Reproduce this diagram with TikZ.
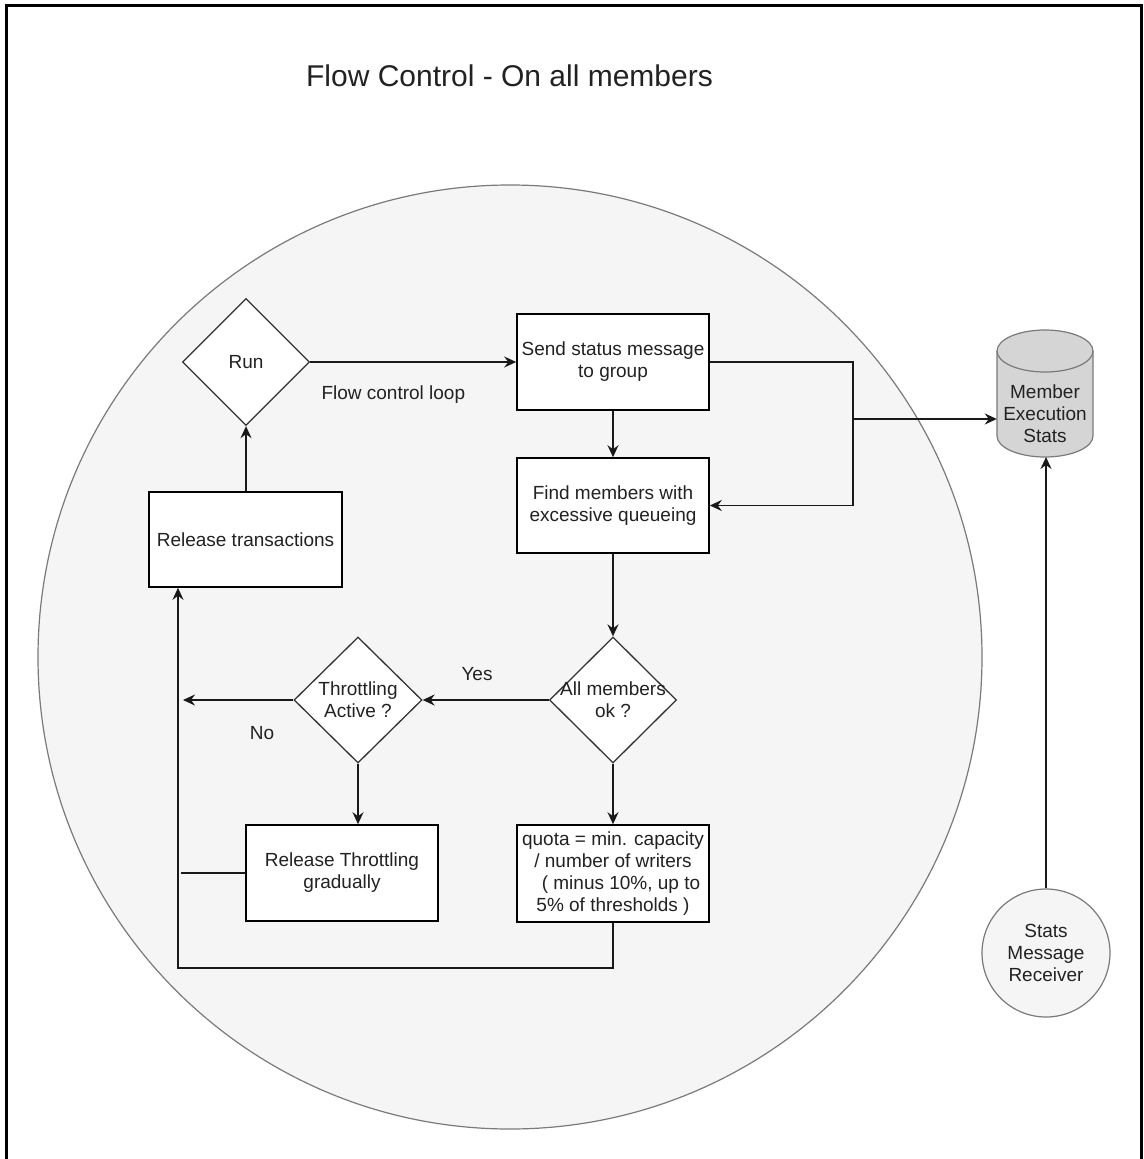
\documentclass[tikz,border=0pt]{standalone}
\usepackage{fontspec}
\setmainfont{Liberation Sans}
\usetikzlibrary{shapes.geometric,arrows.meta,calc}
\definecolor{ink}{HTML}{222222}
\definecolor{zone}{HTML}{F5F5F5}
\definecolor{zoneedge}{HTML}{7A7A7A}
\definecolor{store}{HTML}{D5D5D5}
\begin{document}
\begin{tikzpicture}[x=1pt,y=-1pt,
  txt/.style={font=\fontsize{19}{22}\selectfont, text=ink},
  box/.style={txt, draw=black, fill=white, line width=1.6pt,
    minimum width=192pt, minimum height=96pt, inner sep=2pt, align=center},
  decision/.style={diamond, draw=black!80, fill=white, line width=1.3pt,
    minimum width=127pt, minimum height=127pt, inner sep=0pt},
  inside/.style={txt, align=center},
  flow/.style={draw=black!90, line width=1.6pt,
    -{Stealth[length=12pt,width=11pt,inset=4pt]}},
  wire/.style={draw=black!90, line width=1.6pt},
]
\useasboundingbox (0,0) rectangle (1143,1159);
\fill[white] (0,0) rectangle (1143,1159);

% outer frame
\draw[line width=3pt, black] (6,1162) -- (6,5) -- (1141,5) -- (1141,1162);

% title
\node[font=\fontsize{30}{35}\selectfont, text=ink] (title) at (509.5,76) {Flow Control - On all members};

% the member zone
\draw[fill=zone, draw=zoneedge, line width=1.2pt] (510,657) circle[radius=472];

% flowchart nodes
\node[decision, label={[inside]center:Run}] (run) at (246,362) {};
\node[box] (send) at (613,362) {Send status message\\to group};
\node[box, minimum height=95pt] (find) at (613,505.5) {Find members with\\excessive queueing};
\node[box, minimum width=193pt, minimum height=95pt] (reltx) at (245.5,539.5) {Release transactions};
\node[decision, minimum width=128pt, minimum height=126pt,
  label={[inside]center:{Throttling\\Active ?}}] (thr) at (358,700) {};
\node[decision, minimum height=126pt,
  label={[inside]center:{All members\\ok ?}}] (allok) at (613,700) {};
\node[box] (relthr) at (342,873) {Release Throttling\\gradually};
\node[box, minimum height=97pt] (quota) at (613,873.5)
  {quota = min. capacity\\/ number of writers\hspace*{16pt}\\\hspace*{16pt}( minus 10\%, up to\\5\% of thresholds )};

% labels
\node[txt, anchor=west] (looplbl) at (318,395) {Flow control loop};
\node[txt] (yes) at (477,674) {Yes};
\node[txt] (no) at (262,733) {No};

% statistics store (cylinder)
\draw[fill=store, draw=zoneedge, line width=1.2pt]
  (997,351) -- (997,436) arc[start angle=180, end angle=0, x radius=48, y radius=21]
  -- (1093,351) arc[start angle=0, end angle=-180, x radius=48, y radius=21] -- cycle;
\draw[draw=zoneedge, line width=1.2pt]
  (997,351) arc[start angle=180, end angle=0, x radius=48, y radius=21];
\node[inside, minimum width=96pt, minimum height=127pt, inner sep=0pt] (db) at (1045,414) {Member\\Execution\\Stats};
\coordinate (dbbase) at (1046,457);

% stats receiver
\node[txt, circle, draw=zoneedge, fill=zone, line width=1.2pt, minimum size=128pt,
  inner sep=0pt, align=center] (recv) at (1046,953) {Stats\\Message\\Receiver};

% routing points
\coordinate (busTop) at (853,362);
\coordinate (busMid) at (853,419);
\coordinate (busBot) at (853,505.5);
\coordinate (noEnd) at (183,700);
\coordinate (thrEnd) at (181,873);
\coordinate (loopR) at (613,968);
\coordinate (loopL) at (178,968);

% connectors
\draw[flow] (run.east) -- (send.west);
\draw[flow] (reltx.north -| run.south) -- (run.south);
\draw[flow] (send.south) -- (find.north);
\draw[flow] (send.east) -- (busTop) -- (busBot) -- (find.east);
\draw[flow] (busMid) -- (busMid -| db.west);
\draw[flow] (find.south) -- (allok.north);
\draw[flow] (allok.west) -- (thr.east);
\draw[flow] (thr.west) -- (noEnd);
\draw[flow] (thr.south) -- (thr.south |- relthr.north);
\draw[wire] (relthr.west) -- (thrEnd);
\draw[flow] (allok.south) -- (quota.north);
\draw[flow] (quota.south) -- (loopR) -- (loopL) -- (loopL |- reltx.south);
\draw[flow] (recv.north) -- (dbbase);
\end{tikzpicture}
\end{document}
